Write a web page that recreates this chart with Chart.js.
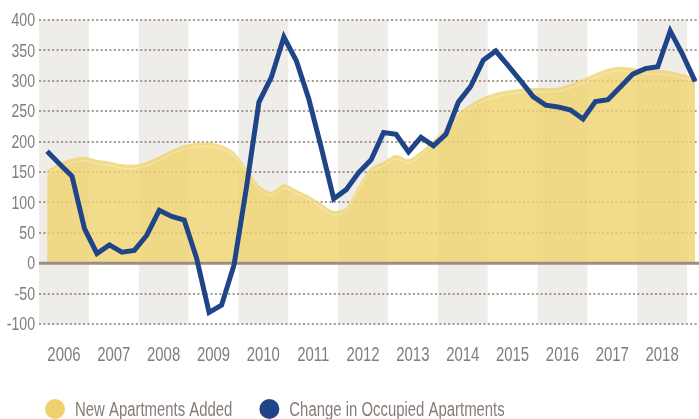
<!DOCTYPE html>
<html>
<head>
<meta charset="utf-8">
<title>New vs Occupied Apartments</title>
<script src="https://cdn.jsdelivr.net/npm/chart.js@4.4.1/dist/chart.umd.min.js"></script>
<style>
  html, body { margin: 0; padding: 0; background: #fff; }
  #wrap { width: 699px; height: 419px; position: relative; }
</style>
</head>
<body>
<div id="wrap"><canvas id="chart"></canvas></div>
<script>
// ── Data (quarterly, 2006 Q1 – 2019 Q1) ───────────────────────
const firstYear = 2006;
const years = [2006, 2007, 2008, 2009, 2010, 2011, 2012, 2013, 2014, 2015, 2016, 2017, 2018];
const seriesNames = ['New Apartments Added', 'Change in Occupied Apartments'];

const newApartments = [
  153, 164, 172, 175, 170, 167, 163, 162, 167, 176, 186, 194,
  198, 198, 194, 183, 156, 128, 118, 130, 121, 111, 98, 86,
  92, 127, 157, 167, 178, 171, 184, 202, 222, 246, 262, 273,
  280, 284, 287, 288, 288, 289, 295, 303, 312, 320, 323, 321,
  318, 318, 316, 311, 306
];

const occupiedChange = [
  184, 163, 143, 57, 16, 30, 18, 21, 46, 87, 77, 71,
  8, -81, -69, -3, 125, 265, 306, 372, 333, 270, 190, 106,
  121, 149, 170, 215, 212, 183, 207, 193, 212, 265, 291, 334,
  349, 325, 300, 274, 260, 257, 252, 237, 266, 269, 290, 311,
  320, 323, 382, 343, 299
];

const yTicks = [-100, -50, 0, 50, 100, 150, 200, 250, 300, 350, 400];

// ── Colours ───────────────────────────────────────────────────
const YELLOW_FILL = 'rgba(239, 211, 110, 0.8)';
const YELLOW_SOLID = '#efd16b';
const BLUE = '#1f4588';
const BAND = '#efedea';
const TEXT = '#857c77';
const legendColors = [YELLOW_SOLID, BLUE];

// the original uses a condensed face; squeeze a regular one to match
const FONT = "'Liberation Sans', Arial, sans-serif";
const SQUEEZE = 0.745;

// quarter index -> position on the year axis
const toPoints = arr => arr.map((v, i) => ({ x: firstYear + (i + 0.65) / 4, y: v }));

function narrowText(ctx, text, x, y, size, align) {
  ctx.save();
  ctx.font = `${size}px ${FONT}`;
  ctx.fillStyle = TEXT;
  ctx.textAlign = align;
  ctx.textBaseline = 'middle';
  const w = ctx.measureText(text).width * SQUEEZE;
  ctx.translate(x, y);
  ctx.scale(SQUEEZE, 1);
  ctx.fillText(text, 0, 0);
  ctx.restore();
  return w;
}

// ── Plugin: year bands, zero line, highlight, labels, legend ──
const decorations = {
  id: 'decorations',
  beforeDraw(chart) {
    const { ctx, chartArea: a, scales: { x } } = chart;
    ctx.save();
    ctx.fillStyle = BAND;
    years.concat([2019]).forEach(yr => {
      if (yr % 2 !== 0) return;
      const l = Math.max(a.left, x.getPixelForValue(yr));
      const r = Math.min(a.right, x.getPixelForValue(yr + 1));
      if (r > l) ctx.fillRect(l, a.top, r - l, a.bottom - a.top);
    });
    ctx.restore();
  },
  afterDatasetDraw(chart, args) {
    if (args.index !== 0) return;
    const { ctx, chartArea: a, scales: { y } } = chart;
    const y0 = y.getPixelForValue(0);
    // faint inner highlight under the top edge of the area
    const line = chart.getDatasetMeta(0).dataset;
    ctx.save();
    ctx.beginPath();
    ctx.rect(a.left, a.top, a.right - a.left, y0 - a.top);
    ctx.clip();
    ctx.translate(0, 4);
    ctx.beginPath();
    line.path(ctx);
    ctx.strokeStyle = 'rgba(255,255,255,0.35)';
    ctx.lineWidth = 1;
    ctx.stroke();
    ctx.restore();
    // zero line
    ctx.save();
    ctx.strokeStyle = '#9d8e83';
    ctx.lineWidth = 3;
    ctx.beginPath();
    ctx.moveTo(a.left, y0);
    ctx.lineTo(a.right, y0);
    ctx.stroke();
    ctx.restore();
  },
  afterDraw(chart) {
    const { ctx, chartArea: a, scales: { x, y } } = chart;
    // y tick labels
    yTicks.forEach(v => narrowText(ctx, String(v), a.left - 4, y.getPixelForValue(v) + 1, 19, 'right'));
    // year labels, centred in each year
    years.forEach(yr => narrowText(ctx, String(yr), x.getPixelForValue(yr + 0.5), a.bottom + 31, 20, 'center'));
    // legend
    let lx = 45;
    const ly = chart.height - 10;
    chart.data.datasets.forEach((ds, i) => {
      ctx.save();
      ctx.fillStyle = legendColors[i];
      ctx.beginPath();
      ctx.arc(lx + 10, ly, 10, 0, Math.PI * 2);
      ctx.fill();
      ctx.restore();
      const w = narrowText(ctx, ds.label, lx + 30, ly + 1, 20, 'left');
      lx += 30 + w + 27;
    });
  }
};

Chart.defaults.font.family = FONT;

new Chart(document.getElementById('chart'), {
  type: 'line',
  data: {
    datasets: [
      {
        label: seriesNames[0],
        data: toPoints(newApartments),
        fill: 'origin',
        backgroundColor: YELLOW_FILL,
        borderWidth: 0,
        borderColor: 'rgba(0,0,0,0)',
        pointRadius: 0,
        tension: 0.3,
        order: 2
      },
      {
        label: seriesNames[1],
        data: toPoints(occupiedChange),
        fill: false,
        borderColor: BLUE,
        backgroundColor: BLUE,
        borderWidth: 5,
        pointRadius: 0,
        tension: 0,
        order: 1
      }
    ]
  },
  options: {
    responsive: true,
    maintainAspectRatio: false,
    animation: false,
    layout: { padding: { top: 20, left: 4, right: 0, bottom: 50 } },
    scales: {
      x: {
        type: 'linear',
        min: firstYear,
        max: firstYear + 13.24,
        grid: { display: false, drawTicks: false },
        border: { display: false },
        afterBuildTicks: scale => { scale.ticks = years.map(yr => ({ value: yr + 0.5 })); },
        afterFit: scale => { scale.height = 45; },
        ticks: { display: false }
      },
      y: {
        min: -100,
        max: 400,
        afterBuildTicks: scale => { scale.ticks = yTicks.map(v => ({ value: v })); },
        afterFit: scale => { scale.width = 35; },
        grid: { color: 'rgba(150, 134, 122, 0.85)', lineWidth: 2, drawTicks: false },
        border: { display: false, dash: [2, 2.4] },
        ticks: { display: false }
      }
    },
    plugins: {
      tooltip: { enabled: false },
      legend: { display: false }
    }
  },
  plugins: [decorations]
});
</script>
</body>
</html>
